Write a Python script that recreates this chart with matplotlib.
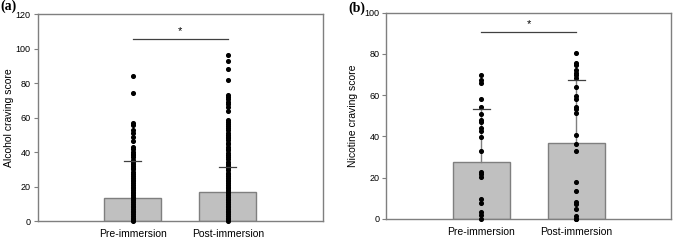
import matplotlib.pyplot as plt
import numpy as np

plt.rcParams['font.family'] = ['Liberation Sans', 'DejaVu Sans']

groups = ['Pre-immersion', 'Post-immersion']

# panel (a) alcohol craving
alc_mean = [13.5, 16.8]
alc_sd_top = [34.6, 31.1]
alc_pre = [84, 74.5, 57, 55.5, 53, 51, 49, 46.5, 43, 41.5, 40, 39, 38, 37, 35.5,
           34, 33, 32, 31, 30, 28.5, 27, 26, 25, 24, 23, 22, 21, 20, 19, 18, 17,
           16, 15, 14, 13, 12, 11, 10, 9, 8, 7, 6, 5, 4, 3, 2, 1, 0.5, 0]
alc_post = [96, 92.5, 88, 81.5, 73, 72, 71, 69, 68, 66, 64, 58.5, 57.5, 56.5, 55,
            54, 52.5, 51, 50, 49, 48, 47, 45.5, 44.5, 43, 42, 41, 39.5, 38, 37,
            36, 34.5, 33, 32, 31, 29.5, 28, 27, 26, 25, 24, 23, 22, 21, 20, 19,
            18, 17, 16, 15, 14, 13, 12, 11, 10, 9, 8, 7, 6, 5, 4, 3, 2, 1, 0]

# panel (b) nicotine craving
nic_mean = [27.7, 36.8]
nic_sd_top = [53.2, 67.3]
nic_pre = [69.8, 67.4, 65.8, 58.1, 54.2, 51, 48.1, 46.8, 43.9, 42.7, 39.7, 33.1,
           22.9, 21.9, 20.6, 9.7, 7.7, 3.2, 2.1, 0]
nic_post = [80.3, 75.5, 74.5, 72.3, 71, 69.8, 68.2, 64.2, 59.4, 58.4, 54.5, 53.5,
            51.6, 40.8, 36.5, 33.1, 17.7, 13.7, 8.2, 7.4, 5, 1.3, 0.2, 0]

grey = '#7f7f7f'


def panel(ax, means, sd_top, dots, ymax, ystep, ylabel, sig_y, label_x):
    x = np.arange(1, len(means) + 1)
    ax.bar(x, means, width=0.6, color='#c0c0c0', edgecolor=grey, linewidth=1, zorder=1)
    for xi, m, s in zip(x, means, sd_top):
        ax.plot([xi, xi], [m, s], color=grey, lw=1, zorder=2)
        ax.plot([xi - 0.09, xi + 0.09], [s, s], color='#404040', lw=0.9, zorder=4)
    for xi, d in zip(x, dots):
        ax.scatter(np.full(len(d), xi), d, s=7, color='black', zorder=3, clip_on=False)
    ax.plot([x[0], x[1]], [sig_y, sig_y], color='#404040', lw=0.9)
    ax.text((x[0] + x[1]) / 2, sig_y + ymax * 0.015, '*', ha='center', va='bottom', fontsize=8)
    ax.set_xlim(0, 3)
    ax.set_ylim(0, ymax)
    ax.set_yticks(np.arange(0, ymax + 1, ystep))
    ax.set_xticks(x)
    ax.set_xticklabels(groups, fontsize=7.5)
    ax.tick_params(axis='x', length=0, pad=6)
    ax.tick_params(axis='y', length=3, color=grey, labelsize=6.5, pad=2)
    for sp in ax.spines.values():
        sp.set_color(grey)
        sp.set_linewidth(1)
    ax.set_ylabel(ylabel, fontsize=7.5)
    ax.yaxis.set_label_coords(label_x, 0.5)


fig = plt.figure(figsize=(6.77, 2.40), dpi=100)
ax1 = fig.add_axes([0.0557, 0.079, 0.4214, 0.8625])
ax2 = fig.add_axes([0.5706, 0.0875, 0.4205, 0.8596])

panel(ax1, alc_mean, alc_sd_top, [alc_pre, alc_post], 120, 20,
      'Alcohol craving score', 105.3, -0.083)
panel(ax2, nic_mean, nic_sd_top, [nic_pre, nic_post], 100, 20,
      'Nicotine craving score', 90.6, -0.1)

fig.text(0.0, 0.972, '(a)', fontsize=10, fontweight='bold', family='Liberation Serif',
         ha='left', va='center')
fig.text(0.514, 0.965, '(b)', fontsize=10, fontweight='bold', family='Liberation Serif',
         ha='left', va='center')

fig.savefig('out.png', dpi=100)
